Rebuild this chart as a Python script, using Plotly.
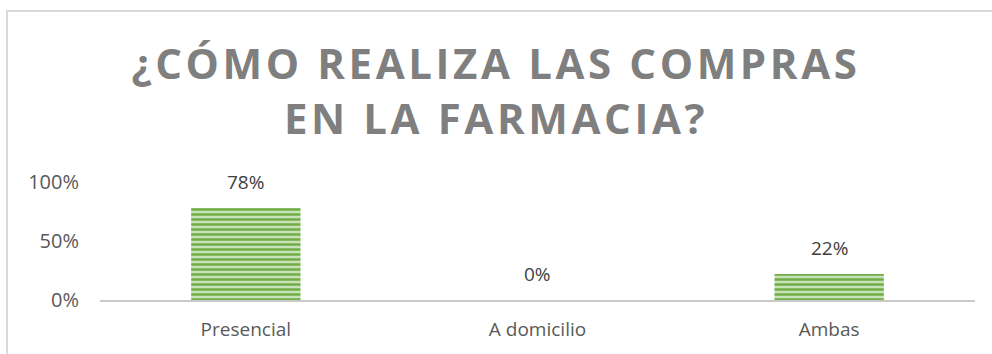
import plotly.graph_objects as go

# Survey answers: how purchases at the pharmacy are made
categories = ["Presencial", "A domicilio", "Ambas"]
shares = [0.78, 0.0, 0.22]
y_ticks = [0, 0.5, 1.0]
y_tick_labels = ["0%", "50%", "100%"]

TITLE = "¿CÓMO REALIZA LAS COMPRAS<br>EN LA FARMACIA?"
W, H = 992, 354
L, R, T, B = 100, 17, 182, 54  # plot area: x 100..975, y 182..300

fig = go.Figure(
    go.Bar(
        x=categories,
        y=shares,
        width=0.375,
        marker=dict(
            color="#a9d18e",
            line=dict(width=0),
            pattern=dict(shape="-", fgcolor="#70ad47", bgcolor="#c9e3b8",
                         size=5, solidity=0.5, fillmode="replace"),
        ),
        hoverinfo="skip",
    )
)

# value labels above each bar
for c, v in zip(categories, shares):
    fig.add_annotation(
        x=c, y=v, text=f"{round(v * 100)}%", showarrow=False,
        yanchor="bottom", yshift=11,
        font=dict(family="Open Sans", size=19, color="#404040"),
    )

# chart frame (only its top and left edges fall inside the page)
pw, ph = W - L - R, H - T - B
fig.add_shape(
    type="rect", xref="paper", yref="paper",
    x0=(7 - L) / pw, x1=(W + 40 - L) / pw,
    y0=-(H + 40 - (H - B)) / ph, y1=((H - B) - 11) / ph,
    line=dict(color="#d9d9d9", width=2), fillcolor="rgba(0,0,0,0)",
    layer="below",
)

fig.update_layout(
    width=W, height=H,
    margin=dict(l=L, r=R, t=T, b=B, pad=0),
    paper_bgcolor="white", plot_bgcolor="white",
    showlegend=False,
    title=dict(
        text=TITLE, x=0.5, xanchor="center", xref="container",
        y=1 - 79 / H, yanchor="middle",
        font=dict(family="Open Sans", size=42, color="#7f7f7f", weight="bold"),
    ),
    bargap=0.625,
)
fig.update_xaxes(
    showgrid=False, zeroline=False, showline=True, linecolor="#c9c9c9", linewidth=2,
    ticks="", ticklabelstandoff=11,
    tickfont=dict(family="Open Sans", size=19, color="#595959"),
)
fig.update_yaxes(
    range=[0, 1.0], tickvals=y_ticks, ticktext=y_tick_labels,
    showgrid=False, zeroline=False, showline=False, ticks="",
    ticklabelstandoff=20,
    tickfont=dict(family="Open Sans", size=20, color="#595959"),
)

# widen the tracking of the heading
spacing_js = (
    "document.querySelectorAll('.gtitle').forEach(function(e){"
    "e.style.letterSpacing='3.6px';});"
)

fig.write_html("out.html", post_script=spacing_js)
